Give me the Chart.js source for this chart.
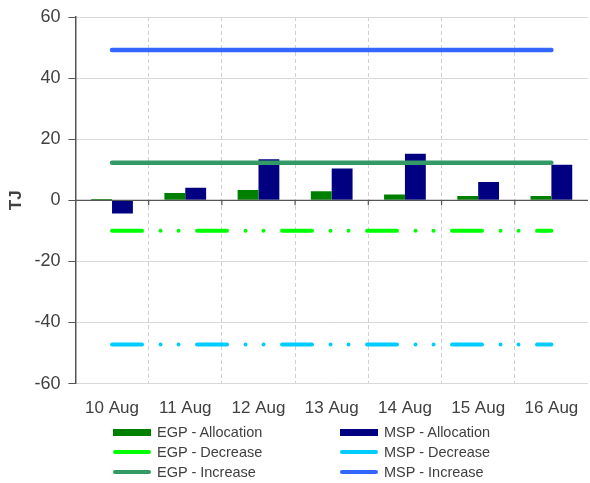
<!DOCTYPE html>
<html>
<head>
<meta charset="utf-8">
<script src="https://cdn.jsdelivr.net/npm/chart.js@4.4.0/dist/chart.umd.min.js"></script>
<style>
  html, body { margin: 0; padding: 0; background: #fff; }
  #wrap { position: relative; width: 590px; height: 483px; }
  #chart { position: absolute; left: 0; top: 0; }
  #legend { position: absolute; left: 0; top: 422px; width: 590px; font-family: "Liberation Sans", Arial, sans-serif; font-size: 14.5px; color: #404040; }
  .item { position: absolute; height: 20px; display: flex; align-items: center; white-space: nowrap; }
  .swatch { width: 38px; margin-right: 6px; }
</style>
</head>
<body>
<div id="wrap">
  <canvas id="chart" width="590" height="483"></canvas>
  <div id="legend"></div>
</div>
<script>
const categories = ['10 Aug', '11 Aug', '12 Aug', '13 Aug', '14 Aug', '15 Aug', '16 Aug'];
const egpAllocation = [0.4, 2.4, 3.4, 3.0, 1.9, 1.4, 1.4];
const mspAllocation = [-4.3, 4.1, 13.4, 10.4, 15.2, 6.0, 11.6];
const egpDecrease = [-10, -10, -10, -10, -10, -10, -10];
const mspDecrease = [-47.2, -47.2, -47.2, -47.2, -47.2, -47.2, -47.2];
const egpIncrease = [12.3, 12.3, 12.3, 12.3, 12.3, 12.3, 12.3];
const mspIncrease = [49.2, 49.2, 49.2, 49.2, 49.2, 49.2, 49.2];
const yTicks = [-60, -40, -20, 0, 20, 40, 60];

const FONT = '"Liberation Sans", Arial, sans-serif';
const TXT = '#404040';
const dashDot = [30, 18.5, 0, 18, 0, 18.5];

const datasets = [
  { type: 'bar', label: 'EGP - Allocation', data: egpAllocation, backgroundColor: '#008000', order: 2, barPercentage: 1, categoryPercentage: 0.57 },
  { type: 'bar', label: 'MSP - Allocation', data: mspAllocation, backgroundColor: '#000080', order: 2, barPercentage: 1, categoryPercentage: 0.57 },
  { type: 'line', label: 'EGP - Decrease', data: egpDecrease, borderColor: '#00FF00', backgroundColor: '#00FF00', borderWidth: 4, borderDash: dashDot, borderCapStyle: 'round', pointRadius: 0, order: 1 },
  { type: 'line', label: 'MSP - Decrease', data: mspDecrease, borderColor: '#00CCFF', backgroundColor: '#00CCFF', borderWidth: 4, borderDash: dashDot, borderCapStyle: 'round', pointRadius: 0, order: 1 },
  { type: 'line', label: 'EGP - Increase', data: egpIncrease, borderColor: '#339966', backgroundColor: '#339966', borderWidth: 4.5, borderCapStyle: 'round', pointRadius: 0, order: 1 },
  { type: 'line', label: 'MSP - Increase', data: mspIncrease, borderColor: '#3366FF', backgroundColor: '#3366FF', borderWidth: 4.5, borderCapStyle: 'round', pointRadius: 0, order: 1 }
];

const zeroTicks = {
  id: 'zeroTicks',
  afterDatasetsDraw(chart) {
    const { ctx, scales: { x, y } } = chart;
    const y0 = y.getPixelForValue(0);
    ctx.save();
    ctx.strokeStyle = '#555';
    ctx.lineWidth = 1.2;
    ctx.beginPath();
    ctx.moveTo(x.left, y0); ctx.lineTo(x.right, y0);
    ctx.stroke();
    const n = categories.length;
    for (let i = 1; i < n; i++) {
      const px = (x.getPixelForValue(i - 1) + x.getPixelForValue(i)) / 2;
      ctx.beginPath(); ctx.moveTo(px, y0); ctx.lineTo(px, y0 + 5); ctx.stroke();
    }
    ctx.restore();
  }
};

const chart = new Chart(document.getElementById('chart'), {
  data: { labels: categories, datasets },
  options: {
    responsive: false,
    animation: false,
    events: [],
    layout: { padding: { top: 4, right: 2, bottom: 49, left: 6 } },
    plugins: { legend: { display: false }, tooltip: { enabled: false } },
    scales: {
      x: {
        offset: true,
        grid: { offset: true, color: (c) => ((c.type !== 'tick' || c.index === 0) ? 'rgba(0,0,0,0)' : '#d0d0d0'), lineWidth: 1, drawTicks: false },
        border: { display: false, dash: [4, 3] },
        ticks: { color: TXT, font: { family: FONT, size: 17 }, padding: 15, maxRotation: 0 },
        afterFit: (s) => { s.paddingLeft = 0; s.paddingRight = 0; }
      },
      y: {
        min: -60, max: 60,
        afterBuildTicks: (s) => { s.ticks = yTicks.map(v => ({ value: v })); },
        grid: { color: '#d9d9d9', lineWidth: 1, tickLength: 7, tickColor: '#555' },
        border: { display: true, color: '#555', width: 1.5 },
        ticks: { color: TXT, font: { family: FONT, size: 18, lineHeight: 1 }, padding: 8 },
        title: { display: true, text: 'TJ', color: TXT, font: { family: FONT, size: 17, weight: 'bold' }, padding: { top: 0, bottom: 0 } }
      }
    }
  },
  plugins: [zeroTicks]
});

// HTML legend built from datasets
const legendEl = document.getElementById('legend');
const colX = [113, 340];
const rowY = [0, 20, 39.5];
datasets.forEach((ds, i) => {
  const col = i % 2, row = Math.floor(i / 2);
  const item = document.createElement('div');
  item.className = 'item';
  item.style.left = colX[col] + 'px';
  item.style.top = rowY[row] + 'px';
  const sw = document.createElement('div');
  sw.className = 'swatch';
  const color = ds.type === 'bar' ? ds.backgroundColor : ds.borderColor;
  sw.style.background = color;
  if (ds.type === 'bar') { sw.style.height = '7px'; }
  else { sw.style.height = '4px'; sw.style.borderRadius = '2px'; }
  const tx = document.createElement('span');
  tx.textContent = ds.label;
  item.appendChild(sw); item.appendChild(tx);
  legendEl.appendChild(item);
});
</script>
</body>
</html>
